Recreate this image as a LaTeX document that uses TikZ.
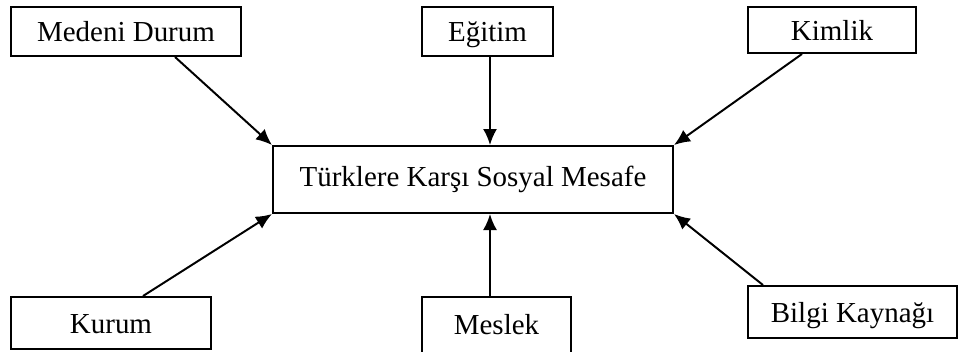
\documentclass[tikz,border=0pt]{standalone}
\usepackage{fontspec}
\setmainfont{Liberation Serif}
\usetikzlibrary{arrows.meta}

\tikzset{
  box/.style={draw,line width=1.4pt,inner sep=0pt,font=\fontsize{20.6}{24}\selectfont},
  outer/.style={box,text height=0.5cm,text depth=-0.1cm},
  arr/.style={line width=1.4pt,-{Latex[length=0.4cm,width=0.35cm]}}
}

\begin{document}
\begin{tikzpicture}[x=0.025cm,y=-0.025cm]
\useasboundingbox (0,0) rectangle (960,351);
% kutular
\node[outer,minimum width=5.75cm,minimum height=1.225cm] (md) at (126,31.5) {Medeni Durum};
\node[outer,minimum width=3.275cm,minimum height=1.225cm] (eg) at (487.5,31.5) {Eğitim};
\node[outer,minimum width=4.2cm,minimum height=1.15cm] (km) at (832,30) {Kimlik};
\node[box,minimum width=10cm,minimum height=1.675cm] (ts) at (473,179.5) {Türklere Karşı Sosyal Mesafe};
\node[outer,minimum width=5cm,minimum height=1.3cm] (ku) at (111,323) {Kurum};
\node[outer,minimum width=3.725cm,minimum height=1.475cm,text height=0.4cm] (ms) at (496.5,326.5) {Meslek};
\node[outer,minimum width=5.225cm,minimum height=1.3cm] (bk) at (852.5,312) {Bilgi Kaynağı};
% oklar
\draw[arr] ([xshift=1.225cm]md.south) -- (ts.north west);
\draw[arr] ([xshift=0.0625cm]eg.south) -- ([xshift=0.425cm]ts.north);
\draw[arr] ([xshift=-0.75cm]km.south) -- (ts.north east);
\draw[arr] ([xshift=0.8cm]ku.north) -- (ts.south west);
\draw[arr] ([xshift=-0.1625cm]ms.north) -- ([xshift=0.425cm]ts.south);
\draw[arr] ([xshift=-2.2375cm]bk.north) -- (ts.south east);
\end{tikzpicture}
\end{document}
